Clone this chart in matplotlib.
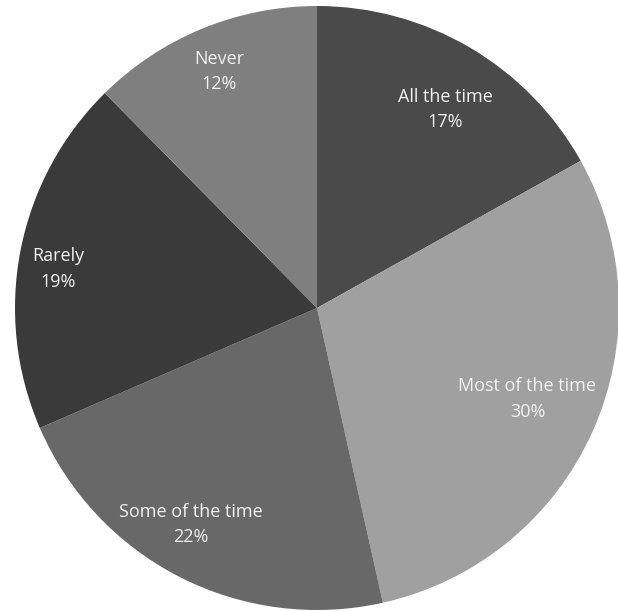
import numpy as np
import matplotlib
matplotlib.use("Agg")
import matplotlib.pyplot as plt

categories = ["All the time", "Most of the time", "Some of the time", "Rarely", "Never"]
values = [16.9, 29.6, 22.0, 19.1, 12.4]
colors = ["#4a4a4a", "#a0a0a0", "#686868", "#3a3a3a", "#7f7f7f"]
label_dist = [0.782, 0.759, 0.829, 0.867, 0.848]
label_dang = [-2.4, 0.8, -3.2, 2.4, 0.2]

W, H = 618, 611
cx, cy, R = 317, 308, 302

fig = plt.figure(figsize=(W / 100, H / 100), dpi=100)
ax = fig.add_axes([0, 0, 1, 1])
wedges, _ = ax.pie(values, colors=colors, startangle=90, counterclock=False,
                   radius=1, wedgeprops=dict(linewidth=0))
ax.set_aspect("auto")
ax.set_xlim(-cx / R, (W - cx) / R)
ax.set_ylim(-(H - cy) / R, cy / R)
ax.axis("off")

total = sum(values)
for w, cat, v, d, da in zip(wedges, categories, values, label_dist, label_dang):
    ang = np.deg2rad((w.theta1 + w.theta2) / 2 + da)
    x, y = d * np.cos(ang), d * np.sin(ang)
    ax.text(x, y, f"{cat}\n{round(100 * v / total)}%", ha="center", va="center",
            color="#f2f2f2", fontsize=13, family=["Open Sans", "DejaVu Sans"],
            linespacing=1.55)

fig.savefig("out.png", dpi=100)
